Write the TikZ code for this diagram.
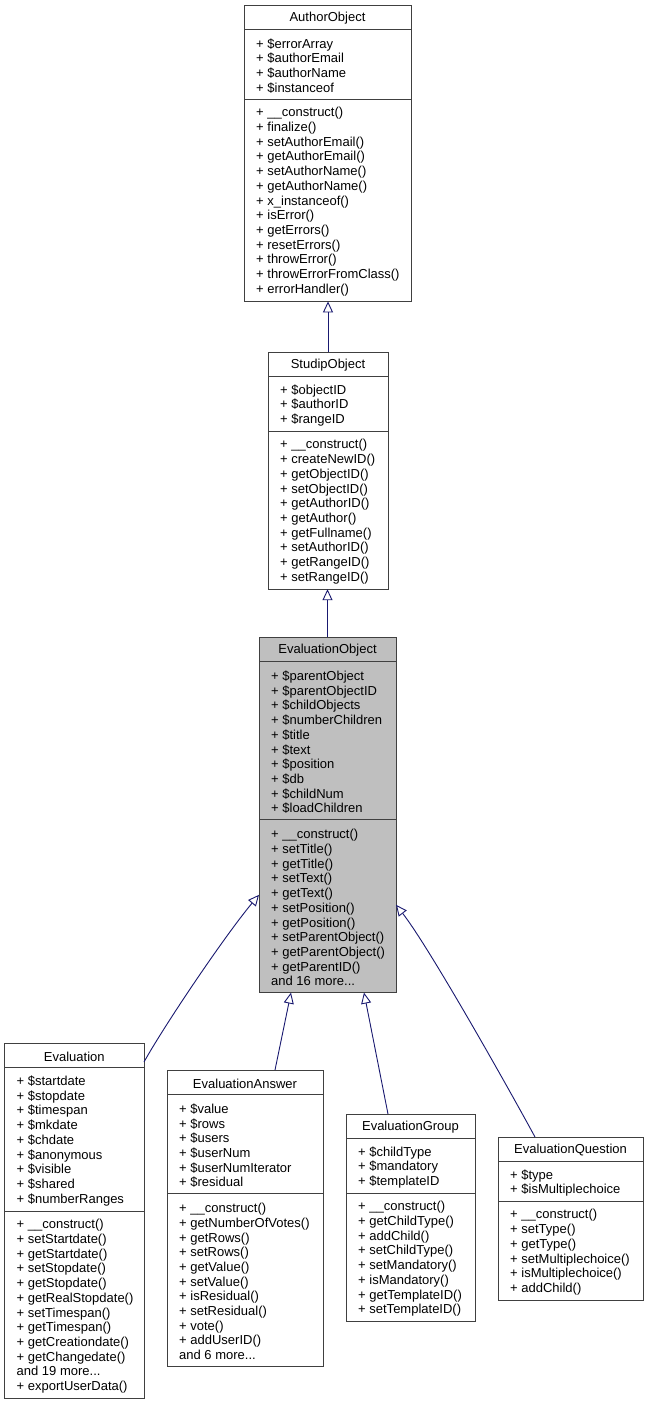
\documentclass[tikz,border=0pt]{standalone}
\usepackage{fontspec}
\setmainfont{Liberation Sans}
\usetikzlibrary{arrows.meta}
\definecolor{edgeblue}{HTML}{191970}
\definecolor{boxgray}{HTML}{BFBFBF}
\definecolor{boxline}{HTML}{404040}

\tikzset{
  boxfill/.style={fill=white},
  classbox/.style={draw=boxline, line width=0.9pt, boxfill, rectangle, inner sep=0pt, outer sep=0pt},
  sepline/.style={draw=boxline, line width=0.9pt},
  titletext/.style={inner sep=0pt, font=\fontsize{13}{14.7}\selectfont},
  membertext/.style={anchor=west, align=left, inner sep=0pt, font=\fontsize{13}{14.7}\selectfont},
  inherit/.style={draw=edgeblue, line width=0.9pt, -{Triangle[length=11pt,width=10pt,fill=white]}}
}

% #1 name, #2 left x, #3 width, #4 top y, #5 attribute lines, #6 method lines, #7 title, #8 attributes, #9 methods
\newcommand{\umlclass}[9]{%
  \pgfmathsetmacro{\ucT}{24.8}%
  \pgfmathsetmacro{\ucA}{14.8*#5+10}%
  \pgfmathsetmacro{\ucM}{14.8*#6+10}%
  \pgfmathsetmacro{\ucH}{\ucT+\ucA+\ucM}%
  \pgfmathsetmacro{\ucSa}{-\ucT}%
  \pgfmathsetmacro{\ucSb}{-\ucT-\ucA}%
  \pgfmathsetmacro{\ucYt}{-\ucT/2-1}%
  \pgfmathsetmacro{\ucYa}{-\ucT-\ucA/2-1.5}%
  \pgfmathsetmacro{\ucYm}{-\ucT-\ucA-\ucM/2-1.5}%
  \node[classbox, minimum width=#3pt, minimum height=\ucH pt, anchor=north west] (#1) at (#2,#4) {};
  \draw[sepline] ([yshift=\ucSa pt]#1.north west) -- ([yshift=\ucSa pt]#1.north east);
  \draw[sepline] ([yshift=\ucSb pt]#1.north west) -- ([yshift=\ucSb pt]#1.north east);
  \node[titletext] (#1-t) at ([yshift=\ucYt pt]#1.north) {#7};
  \node[membertext] (#1-a) at ([xshift=12pt,yshift=\ucYa pt]#1.north west) {#8};
  \node[membertext] (#1-m) at ([xshift=12pt,yshift=\ucYm pt]#1.north west) {#9};
}

\begin{document}
\begin{tikzpicture}[x=1pt,y=-1pt]
\fill[white] (0,0) rectangle (647,1403);
\useasboundingbox (0,0) rectangle (647,1403);

\umlclass{author}{244}{167}{5}{4}{13}{AuthorObject}
{+ \$errorArray\\+ \$authorEmail\\+ \$authorName\\+ \$instanceof}
{+ \_\_construct()\\+ finalize()\\+ setAuthorEmail()\\+ getAuthorEmail()\\+ setAuthorName()\\+ getAuthorName()\\+ x\_instanceof()\\+ isError()\\+ getErrors()\\+ resetErrors()\\+ throwError()\\+ throwErrorFromClass()\\+ errorHandler()}

\umlclass{studip}{268}{120}{352}{3}{10}{StudipObject}
{+ \$objectID\\+ \$authorID\\+ \$rangeID}
{+ \_\_construct()\\+ createNewID()\\+ getObjectID()\\+ setObjectID()\\+ getAuthorID()\\+ getAuthor()\\+ getFullname()\\+ setAuthorID()\\+ getRangeID()\\+ setRangeID()}

\begin{scope}[boxfill/.style={fill=boxgray}]
\umlclass{evalobj}{259}{137}{637}{10}{11}{EvaluationObject}
{+ \$parentObject\\+ \$parentObjectID\\+ \$childObjects\\+ \$numberChildren\\+ \$title\\+ \$text\\+ \$position\\+ \$db\\+ \$childNum\\+ \$loadChildren}
{+ \_\_construct()\\+ setTitle()\\+ getTitle()\\+ setText()\\+ getText()\\+ setPosition()\\+ getPosition()\\+ setParentObject()\\+ getParentObject()\\+ getParentID()\\and 16 more...}
\end{scope}

\umlclass{evaluation}{4.5}{139.5}{1043}{9}{12}{Evaluation}
{+ \$startdate\\+ \$stopdate\\+ \$timespan\\+ \$mkdate\\+ \$chdate\\+ \$anonymous\\+ \$visible\\+ \$shared\\+ \$numberRanges}
{+ \_\_construct()\\+ setStartdate()\\+ getStartdate()\\+ setStopdate()\\+ getStopdate()\\+ getRealStopdate()\\+ setTimespan()\\+ getTimespan()\\+ getCreationdate()\\+ getChangedate()\\and 19 more...\\+ exportUserData()}

\umlclass{answer}{167}{156}{1070}{6}{11}{EvaluationAnswer}
{+ \$value\\+ \$rows\\+ \$users\\+ \$userNum\\+ \$userNumIterator\\+ \$residual}
{+ \_\_construct()\\+ getNumberOfVotes()\\+ getRows()\\+ setRows()\\+ getValue()\\+ setValue()\\+ isResidual()\\+ setResidual()\\+ vote()\\+ addUserID()\\and 6 more...}

\umlclass{group}{346}{129}{1114}{3}{8}{EvaluationGroup}
{+ \$childType\\+ \$mandatory\\+ \$templateID}
{+ \_\_construct()\\+ getChildType()\\+ addChild()\\+ setChildType()\\+ setMandatory()\\+ isMandatory()\\+ getTemplateID()\\+ setTemplateID()}

\umlclass{question}{498}{145}{1137}{2}{6}{EvaluationQuestion}
{+ \$type\\+ \$isMultiplechoice}
{+ \_\_construct()\\+ setType()\\+ getType()\\+ setMultiplechoice()\\+ isMultiplechoice()\\+ addChild()}

% inheritance connectors
\draw[inherit] (studip.north) -- (studip.north |- author.south);
\draw[inherit] (evalobj.north) -- (evalobj.north |- studip.south);
\draw[inherit] ([yshift=-19pt]evaluation.north east) .. controls +(20,-36) and +(-35,42) .. ([yshift=-80pt]evalobj.west);
\draw[inherit] ([xshift=108pt]answer.north west) -- ([xshift=32pt]evalobj.south west);
\draw[inherit] ([xshift=42pt]group.north west) -- ([xshift=105pt]evalobj.south west);
\draw[inherit] ([xshift=37pt]question.north west) .. controls +(-20,-37) and +(35,45) .. ([yshift=-90pt]evalobj.east);
\end{tikzpicture}
\end{document}
